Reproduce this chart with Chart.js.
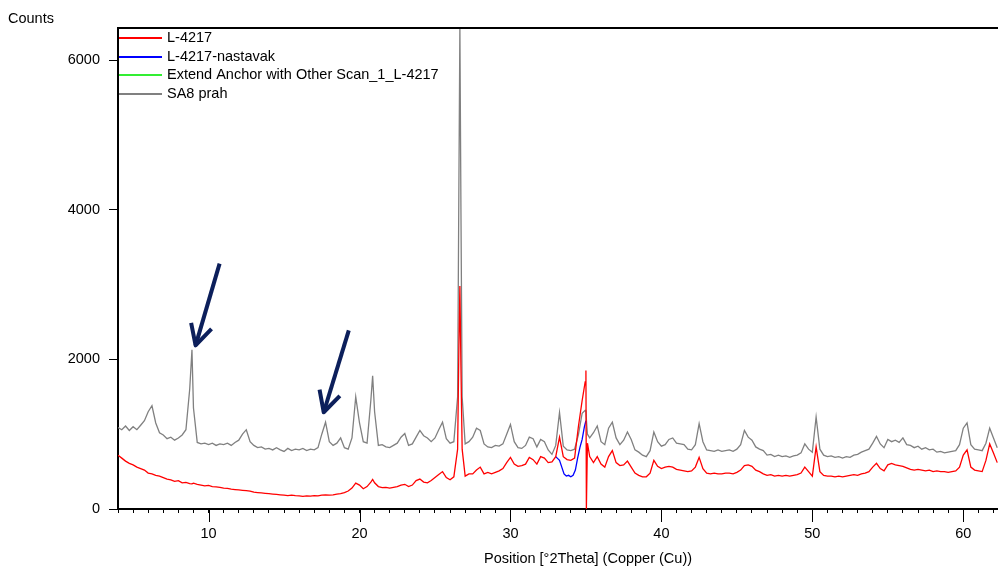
<!doctype html>
<html lang="en">
<head>
<meta charset="UTF-8">
<title>SA8 prah / L-4217</title>
<style>
  html, body { margin: 0; padding: 0; background: #fff; }
  #wrap { width: 998px; height: 569px; }
</style>
</head>
<body>
<div id="wrap"><canvas id="xrd"></canvas></div>

<script src="https://cdn.jsdelivr.net/npm/chart.js@4.4.0/dist/chart.umd.min.js"></script>
<script>
// 2theta positions (deg), shared by the SA8 prah and L-4217 scans
const twoTheta = [
  4.00, 4.25, 4.50, 4.75, 5.00, 5.25, 5.50, 5.75, 6.00, 6.25,
  6.50, 6.75, 7.00, 7.25, 7.50, 7.75, 8.00, 8.25, 8.50, 8.75,
  8.90, 9.00, 9.25, 9.50, 9.75, 10.00, 10.25, 10.50, 10.75, 11.00,
  11.25, 11.50, 11.75, 12.00, 12.25, 12.50, 12.75, 13.00, 13.25, 13.50,
  13.75, 14.00, 14.25, 14.50, 14.75, 15.00, 15.25, 15.50, 15.75, 16.00,
  16.25, 16.50, 16.75, 17.00, 17.25, 17.50, 17.75, 18.00, 18.25, 18.50,
  18.75, 19.00, 19.25, 19.50, 19.75, 20.00, 20.25, 20.50, 20.75, 20.87,
  21.00, 21.25, 21.50, 21.75, 22.00, 22.25, 22.50, 22.75, 23.00, 23.25,
  23.50, 23.75, 24.00, 24.25, 24.50, 24.75, 25.00, 25.25, 25.50, 25.75,
  26.00, 26.25, 26.50, 26.58, 26.65, 26.72, 26.80, 27.00, 27.25, 27.50,
  27.75, 28.00, 28.25, 28.50, 28.75, 29.00, 29.25, 29.50, 29.75, 30.00,
  30.25, 30.50, 30.75, 31.00, 31.25, 31.50, 31.75, 32.00, 32.25, 32.50,
  32.75, 33.00, 33.25, 33.50, 33.75, 34.00, 34.25, 34.50, 34.75, 34.95,
  35.00, 35.03, 35.10, 35.25, 35.50, 35.75, 36.00, 36.25, 36.50, 36.75,
  37.00, 37.25, 37.50, 37.75, 38.00, 38.25, 38.50, 38.75, 39.00, 39.25,
  39.50, 39.75, 40.00, 40.25, 40.50, 40.75, 41.00, 41.25, 41.50, 41.75,
  42.00, 42.25, 42.50, 42.75, 43.00, 43.25, 43.50, 43.75, 44.00, 44.25,
  44.50, 44.75, 45.00, 45.25, 45.50, 45.75, 46.00, 46.25, 46.50, 46.75,
  47.00, 47.25, 47.50, 47.75, 48.00, 48.25, 48.50, 48.75, 49.00, 49.25,
  49.50, 49.75, 50.00, 50.25, 50.50, 50.75, 51.00, 51.25, 51.50, 51.75,
  52.00, 52.25, 52.50, 52.75, 53.00, 53.25, 53.50, 53.75, 54.00, 54.25,
  54.50, 54.75, 55.00, 55.25, 55.50, 55.75, 56.00, 56.25, 56.50, 56.75,
  57.00, 57.25, 57.50, 57.75, 58.00, 58.25, 58.50, 58.75, 59.00, 59.25,
  59.50, 59.75, 60.00, 60.25, 60.50, 60.75, 61.00, 61.25, 61.50, 61.75,
  62.00, 62.25
];

// SA8 prah (grey)
const sa8Counts = [
  1090, 1060, 1110, 1050, 1100, 1060, 1120, 1180, 1300, 1380,
  1150, 1020, 990, 940, 960, 920, 950, 990, 1060, 1600,
  2130, 1350, 890, 870, 880, 860, 880, 850, 870, 860,
  880, 850, 890, 920, 1000, 1060, 900, 850, 820, 830,
  800, 810, 790, 820, 790, 770, 810, 780, 800, 790,
  810, 780, 800, 790, 820, 1000, 1160, 900, 850, 880,
  950, 820, 800, 950, 1500, 1150, 900, 880, 1450, 1780,
  1300, 850, 860, 830, 820, 850, 880, 960, 1010, 850,
  870, 960, 1050, 980, 950, 900, 950, 1060, 1160, 940,
  880, 900, 1500, 4200, 6450, 4000, 1500, 870, 900, 960,
  1080, 1050, 870, 830, 820, 850, 840, 870, 1000, 1130,
  900, 820, 810, 850, 960, 940, 830, 930, 900, 790,
  730, 850, 1290, 840, 790, 780, 800, 990, 1280, 1320,
  1300, 1200, 1000, 950, 1020, 1110, 900, 860, 1080, 1160,
  950, 860, 920, 1030, 930, 790, 760, 720, 700, 780,
  1030, 900, 840, 860, 930, 950, 880, 870, 860, 800,
  790, 860, 1140, 900, 790, 780, 770, 790, 770, 780,
  790, 770, 800, 860, 1050, 960, 920, 830, 800, 780,
  720, 730, 700, 720, 700, 710, 690, 710, 720, 750,
  870, 800, 760, 1230, 800, 720, 700, 710, 690, 700,
  680, 700, 690, 720, 730, 760, 780, 800, 880, 970,
  870, 820, 930, 900, 920, 890, 950, 860, 850, 820,
  840, 800, 820, 790, 800, 760, 770, 750, 760, 770,
  780, 860, 1080, 1150, 860, 800, 790, 780, 880, 1080,
  950, 820
];

// L-4217 (red)
const l4217Counts = [
  720, 680, 640, 610, 590, 560, 540, 520, 480, 470,
  450, 440, 420, 400, 390, 370, 380, 350, 355, 340,
  335, 345, 330, 320, 310, 315, 300, 295, 290, 280,
  275, 265, 260, 255, 250, 245, 240, 225, 220, 215,
  210, 205, 200, 195, 190, 185, 180, 185, 178, 175,
  170, 175, 172, 180, 175, 185, 190, 185, 190, 200,
  205, 220, 240, 280, 345, 320, 270, 300, 360, 395,
  350, 300, 285, 290, 280, 290, 300, 320, 330, 300,
  320, 380, 400, 360, 350, 380, 420, 460, 500, 420,
  390, 430, 800, 2100, 2980, 1900, 800, 440, 470, 470,
  520, 560, 470, 490, 470, 490, 510, 540, 620, 690,
  600, 570, 580, 600, 690, 660, 600, 700, 680, 620,
  630, 700, 960, 700, 660, 650, 680, 1100, 1450, 1700,
  1850, 0, 880, 700, 620, 700, 600, 560, 700, 780,
  620, 580, 590, 640, 560, 480, 450, 430, 430, 480,
  650, 570, 540, 560, 570, 560, 530, 520, 510, 500,
  510, 560, 690, 540, 480, 470, 480, 470, 470, 480,
  480, 470, 490, 520, 580, 590, 570, 520, 500, 470,
  450, 460, 440, 450, 440, 450, 440, 450, 460, 480,
  560, 500, 440, 830, 500, 450, 440, 440, 430, 440,
  430, 440, 450, 460, 450, 470, 480, 500, 560, 610,
  540, 510, 590, 610, 590, 580, 570, 550, 530, 520,
  530, 520, 510, 520, 500, 510, 500, 500, 490, 500,
  510, 560, 720, 790, 560, 520, 510, 500, 650, 870,
  750, 620
];

// L-4217-nastavak (blue), short scan around 33-35 deg
const nastavakTheta  = [33.00, 33.10, 33.25, 33.40, 33.55, 33.70, 33.85, 34.00, 34.15, 34.30, 34.45, 34.60, 34.75, 34.90, 35.00];
const nastavakCounts = [700, 680, 650, 560, 470, 440, 450, 430, 450, 520, 680, 820, 930, 1100, 1180];

// Extend Anchor scan has no visible trace
const anchorTheta  = [];
const anchorCounts = [];

const yTicks = [0, 2000, 4000, 6000];

// hand drawn arrows on the picture, in (2theta, counts)
const arrowTails = [[10.73, 3280], [19.29, 2387]];
const arrowTips  = [[9.14, 2187], [17.63, 1293]];

const xTitle = 'Position [°2Theta] (Copper (Cu))';
const yTitle = 'Counts';
const FONT = '"Liberation Sans", Arial, sans-serif';
const FS = 14.5;

const pts = (xs, ys) => xs.map((x, i) => ({ x: x, y: ys[i] }));

const extras = {
    id: 'extras',
    afterDraw(chart) {
        const { ctx, chartArea: a, scales: { x, y } } = chart;
        ctx.save();

        // top frame line
        ctx.strokeStyle = '#000';
        ctx.lineWidth = 2;
        ctx.beginPath();
        ctx.moveTo(a.left - 1, a.top);
        ctx.lineTo(a.right, a.top);
        ctx.stroke();

        // long ticks every 10 deg
        ctx.lineWidth = 1;
        x.ticks.forEach(t => {
            if (t.value % 10 !== 0) return;
            const px = Math.round(x.getPixelForValue(t.value)) + 0.5;
            ctx.beginPath();
            ctx.moveTo(px, a.bottom);
            ctx.lineTo(px, a.bottom + 13);
            ctx.stroke();
        });

        // axis titles
        ctx.fillStyle = '#000';
        ctx.font = FS + 'px ' + FONT;
        ctx.textAlign = 'left';
        ctx.textBaseline = 'alphabetic';
        ctx.fillText(yTitle, 8, 23);
        ctx.textAlign = 'center';
        ctx.textBaseline = 'middle';
        ctx.fillText(xTitle, 588, 559);

        // legend in the top-left corner of the plot
        ctx.textAlign = 'left';
        chart.data.datasets.forEach((ds, i) => {
            const ly = Math.round(a.top + 10 + i * 18.5);
            ctx.strokeStyle = ds.borderColor;
            ctx.lineWidth = 2;
            ctx.beginPath();
            ctx.moveTo(a.left + 1, ly);
            ctx.lineTo(a.left + 44, ly);
            ctx.stroke();
            ctx.fillStyle = '#000';
            ctx.fillText(ds.label, a.left + 49, ly);
        });

        // arrows
        ctx.strokeStyle = '#0c1f5b';
        ctx.lineWidth = 4;
        ctx.lineJoin = 'round';
        arrowTips.forEach((tip, i) => {
            const tx = x.getPixelForValue(tip[0]), ty = y.getPixelForValue(tip[1]);
            const sx = x.getPixelForValue(arrowTails[i][0]), sy = y.getPixelForValue(arrowTails[i][1]);
            const ang = Math.atan2(sy - ty, sx - tx);
            ctx.beginPath();
            ctx.moveTo(sx, sy);
            ctx.lineTo(tx, ty);
            ctx.stroke();
            ctx.beginPath();
            ctx.moveTo(tx + 23 * Math.cos(ang - 0.48), ty + 23 * Math.sin(ang - 0.48));
            ctx.lineTo(tx, ty);
            ctx.lineTo(tx + 23 * Math.cos(ang + 0.48), ty + 23 * Math.sin(ang + 0.48));
            ctx.stroke();
        });

        ctx.restore();
    }
};

const line = (label, color, data) => ({
    label: label,
    data: data,
    borderColor: color,
    borderWidth: 1.3,
    pointRadius: 0,
    tension: 0,
    fill: false
});

new Chart(document.getElementById('xrd'), {
    type: 'line',
    data: {
        datasets: [
            line('L-4217', '#ff0000', pts(twoTheta, l4217Counts)),
            line('L-4217-nastavak', '#0000ff', pts(nastavakTheta, nastavakCounts)),
            line('Extend Anchor with Other Scan_1_L-4217', '#33ee33', pts(anchorTheta, anchorCounts)),
            line('SA8 prah', '#808080', pts(twoTheta, sa8Counts))
        ]
    },
    options: {
        responsive: true,
        maintainAspectRatio: false,
        animation: false,
        layout: { padding: { top: 28, right: 0, bottom: 0, left: 0 } },
        plugins: {
            legend: { display: false },
            tooltip: { enabled: false }
        },
        scales: {
            x: {
                type: 'linear',
                min: 4,
                max: 62.3,
                afterFit: s => {
                    s.height = 60;
                    s.paddingLeft = 0;
                    s.paddingRight = 0;
                },
                afterBuildTicks: s => {
                    const t = [];
                    for (let v = 4; v <= 62; v++) t.push({ value: v });
                    s.ticks = t;
                },
                ticks: {
                    autoSkip: false,
                    maxRotation: 0,
                    padding: 12,
                    color: '#000',
                    font: { family: FONT, size: FS },
                    callback: v => (v % 10 === 0 ? String(v) : '')
                },
                grid: { drawOnChartArea: false, tickLength: 4, color: '#000' },
                border: { color: '#000', width: 2 }
            },
            y: {
                min: 0,
                max: 6430,
                afterFit: s => {
                    s.width = 118;
                    s.paddingTop = 0;
                    s.paddingBottom = 0;
                },
                afterBuildTicks: s => { s.ticks = yTicks.map(v => ({ value: v })); },
                ticks: {
                    padding: 9,
                    color: '#000',
                    font: { family: FONT, size: FS },
                    callback: v => String(v)
                },
                grid: { drawOnChartArea: false, tickLength: 9, color: '#000' },
                border: { color: '#000', width: 2 }
            }
        }
    },
    plugins: [extras]
});
</script>
</body>
</html>
